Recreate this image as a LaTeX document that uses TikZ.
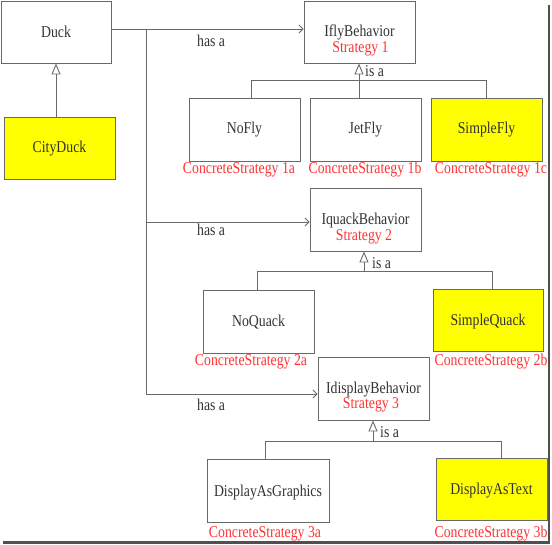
\documentclass[tikz,border=0pt]{standalone}
\usepackage{fontspec}
\setmainfont{Liberation Serif}[FakeStretch=0.835]
\usetikzlibrary{arrows.meta}
\definecolor{ln}{RGB}{105,105,105}
\definecolor{tx}{RGB}{50,50,50}
\definecolor{rd}{RGB}{255,50,50}
\definecolor{yl}{RGB}{255,255,0}
\definecolor{shd}{RGB}{80,80,80}
\begin{document}
\begin{tikzpicture}[x=1pt,y=-1pt,
  every node/.style={font=\fontsize{16.5}{18}\selectfont, text=tx, inner sep=0pt},
  box/.style={draw=ln, line width=0.9pt, minimum width=111pt, minimum height=62pt, fill=white},
  hl/.style={box, fill=yl},
  cstr/.style={text=rd, anchor=base},
  lbl/.style={anchor=base},
  conn/.style={draw=ln, line width=0.9pt},
  hasa/.style={conn, -{Straight Barb[length=4pt, width=8pt]}},
  inh/.style={conn, -{Triangle[open, fill=white, length=11pt, width=9pt]}}]
\useasboundingbox (0,0) rectangle (552,545);
% frame shadow
\draw[line width=2.2pt, shd] (3,542.5) -- (549,542.5) -- (549,5);

% Duck
\node[box, minimum width=110pt] (Duck) at (56,32) {};
\node[lbl] (tDuck) at (56,38) {Duck};
\node[hl] (CityDuck) at (59.5,148) {};
\node[lbl] (tCityDuck) at (59.5,153) {CityDuck};

% Strategy 1
\node[box] (Ifly) at (359.5,32) {};
\node[lbl] (tIfly) at (359.5,37) {IflyBehavior};
\node[cstr] (sIfly) at (360.5,53) {Strategy 1};
\node[box, minimum height=63pt] (NoFly) at (244.5,129.5) {};
\node[lbl] (tNoFly) at (244.5,134) {NoFly};
\node[box, minimum height=63pt] (JetFly) at (365.5,129.5) {};
\node[lbl] (tJetFly) at (365.5,134) {JetFly};
\node[hl, minimum height=63pt] (SimpleFly) at (486.5,129.5) {};
\node[lbl] (tSimpleFly) at (486.5,134) {SimpleFly};
\node[cstr] (c1a) at (239,174) {ConcreteStrategy 1a};
\node[cstr] (c1b) at (365,174) {ConcreteStrategy 1b};
\node[cstr] (c1c) at (491,174) {ConcreteStrategy 1c};

% Strategy 2
\node[box, minimum height=63pt] (Iquack) at (365.5,219.5) {};
\node[lbl] (tIquack) at (365.5,225) {IquackBehavior};
\node[cstr] (sIquack) at (364,241) {Strategy 2};
\node[box, minimum height=63pt] (NoQuack) at (258.5,321.5) {};
\node[lbl] (tNoQuack) at (258.5,327) {NoQuack};
\node[hl, minimum width=110pt] (SimpleQuack) at (488,320) {};
\node[lbl] (tSimpleQuack) at (488,326) {SimpleQuack};
\node[cstr] (c2a) at (251,366) {ConcreteStrategy 2a};
\node[cstr] (c2b) at (491,366) {ConcreteStrategy 2b};

% Strategy 3
\node[box, minimum height=63pt] (Idisplay) at (373.5,388.5) {};
\node[lbl] (tIdisplay) at (373.5,394) {IdisplayBehavior};
\node[cstr] (sIdisplay) at (371,409) {Strategy 3};
\node[box, minimum width=122pt, minimum height=63pt] (DispG) at (268,490.5) {};
\node[lbl] (tDispG) at (268,496) {DisplayAsGraphics};
\node[hl] (DispT) at (491.5,489) {};
\node[lbl] (tDispT) at (491.5,494) {DisplayAsText};
\node[cstr] (c3a) at (265,537) {ConcreteStrategy 3a};
\node[cstr] (c3b) at (491,537) {ConcreteStrategy 3b};

% has a connectors
\coordinate (j1) at (146,29);
\coordinate (j2) at (146,222);
\coordinate (j3) at (146,394);
\draw[hasa] (Duck.east |- j1) -- (Ifly.west |- j1);
\draw[conn] (j1) -- (j3);
\draw[hasa] (j2) -- (Iquack.west |- j2);
\draw[hasa] (j3) -- (Idisplay.west |- j3);
\node[lbl, anchor=base west] (h1) at (197,47) {has a};
\node[lbl, anchor=base west] (h2) at (197,236) {has a};
\node[lbl, anchor=base west] (h3) at (197,411) {has a};

% inheritance
\draw[inh] (CityDuck.north -| Duck.south) -- (Duck.south);

\coordinate (b1) at (359,80);
\coordinate (b1a) at (251,80);
\coordinate (b1c) at (486,80);
\draw[inh] (b1) -- (b1 |- Ifly.south);
\draw[conn] (b1a) -- (b1c);
\draw[conn] (b1a) -- (b1a |- NoFly.north);
\draw[conn] (b1) -- (b1 |- JetFly.north);
\draw[conn] (b1c) -- (b1c |- SimpleFly.north);
\node[lbl, anchor=base west] (i1) at (365,77) {is a};

\coordinate (b2) at (364,271);
\coordinate (b2a) at (257,271);
\coordinate (b2b) at (492,271);
\draw[inh] (b2) -- (b2 |- Iquack.south);
\draw[conn] (b2a) -- (b2b);
\draw[conn] (b2a) -- (b2a |- NoQuack.north);
\draw[conn] (b2b) -- (b2b |- SimpleQuack.north);
\node[lbl, anchor=base west] (i2) at (372,269) {is a};

\coordinate (b3) at (373,441);
\coordinate (b3a) at (265,441);
\coordinate (b3b) at (501,441);
\draw[inh] (b3) -- (b3 |- Idisplay.south);
\draw[conn] (b3a) -- (b3b);
\draw[conn] (b3a) -- (b3a |- DispG.north);
\draw[conn] (b3b) -- (b3b |- DispT.north);
\node[lbl, anchor=base west] (i3) at (380,438) {is a};
\end{tikzpicture}
\end{document}
